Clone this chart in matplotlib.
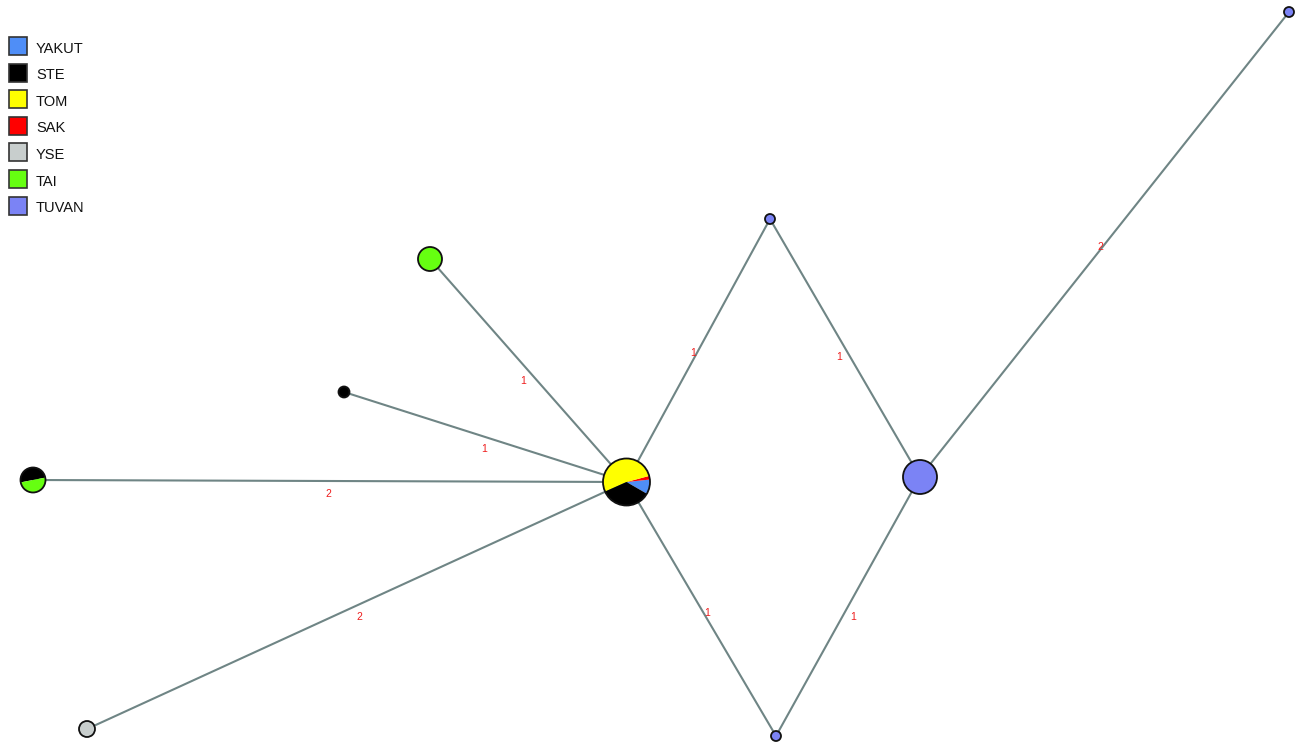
import matplotlib
matplotlib.use("Agg")
import matplotlib.pyplot as plt
from matplotlib.patches import Wedge, Circle, Rectangle

# populations and colours
poblaciones = ["YAKUT", "STE", "TOM", "SAK", "YSE", "TAI", "TUVAN"]
colores = {"YAKUT": "#4f8ef7", "STE": "#000000", "TOM": "#ffff00", "SAK": "#ff0000",
           "YSE": "#c8cecd", "TAI": "#66ff11", "TUVAN": "#7b83f5"}

# haplotypes: composition (population, count)
haplotipos = {
    "H1": [("YAKUT", 4), ("SAK", 1), ("TOM", 21), ("STE", 14)],
    "H2": [("TAI", 1)],
    "H3": [("STE", 1)],
    "H4": [("STE", 1), ("TAI", 1)],
    "H5": [("YSE", 1)],
    "H6": [("TUVAN", 1)],
    "H7": [("TUVAN", 1)],
    "H8": [("TUVAN", 1)],
    "H9": [("TUVAN", 1)],
}

# edges and number of mutations
aristas = [("H1", "H2"), ("H1", "H3"), ("H1", "H4"), ("H1", "H5"),
           ("H1", "H6"), ("H6", "H8"), ("H1", "H7"), ("H7", "H8"), ("H8", "H9")]
mutaciones = [1, 1, 2, 2, 1, 1, 1, 1, 2]

# layout (pixels, y downward)
posicion = {"H1": (626.5, 482), "H2": (430, 259), "H3": (344, 392), "H4": (33, 480),
            "H5": (87, 729), "H6": (770, 219), "H7": (776, 736), "H8": (920, 477),
            "H9": (1289, 12)}
radio = {"H1": 23.5, "H2": 12, "H3": 5.5, "H4": 12.5, "H5": 8, "H6": 5,
         "H7": 5, "H8": 17, "H9": 5}
inicio = {"H1": -30, "H4": 11}
desfase = [(-5, 10), (-1, 12), (-1, 13), (3, 12), (-5, 3), (-6, 9), (6, 4), (5, 11), (-4, 3)]

fig = plt.figure(figsize=(12.95, 7.44), dpi=100)
ax = fig.add_axes([0, 0, 1, 1])
ax.set_xlim(0, 1295)
ax.set_ylim(744, 0)
ax.set_aspect("equal")
ax.axis("off")

for (a, b), m, (dx, dy) in zip(aristas, mutaciones, desfase):
    xa, ya = posicion[a]
    xb, yb = posicion[b]
    ax.plot([xa, xb], [ya, yb], color="#6f8585", lw=1.5, zorder=1)
    ax.text((xa + xb) / 2 + dx, (ya + yb) / 2 + dy, str(m), color="#ee1c1c",
            fontsize=7.5, family="Liberation Sans", ha="center", va="center", zorder=2)

for h, comp in haplotipos.items():
    x, y = posicion[h]
    r = radio[h]
    total = sum(c for _, c in comp)
    ang = inicio.get(h, 90)
    for pob, c in comp:
        paso = 360 * c / total
        # y axis inverted: visual ccw angle -> negative data angle
        ax.add_patch(Wedge((x, y), r, -(ang + paso), -ang, facecolor=colores[pob],
                           edgecolor="none", zorder=3))
        ang += paso
    ax.add_patch(Circle((x, y), r, facecolor="none", edgecolor="#111111", lw=1.3, zorder=4))

# legend
for i, pob in enumerate(poblaciones):
    y0 = 37 + i * 26.6
    ax.add_patch(Rectangle((8.5, y0), 18, 18, facecolor=colores[pob], edgecolor="#333333",
                           lw=1.2, zorder=5))
    ax.text(36, y0 + 15.7, pob, fontsize=10.5, family="Liberation Sans", va="baseline",
            ha="left", color="#111111")

fig.savefig("out.png", dpi=100)
